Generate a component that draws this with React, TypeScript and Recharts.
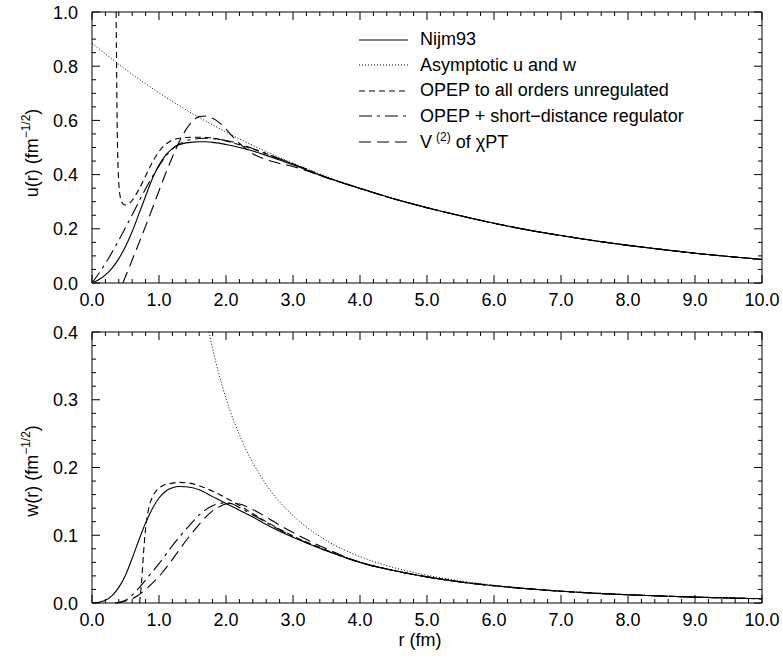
import { LineChart, Line, XAxis, YAxis, Legend } from 'recharts';

const FONT = '"Liberation Sans", Arial, Helvetica, sans-serif';

// shared long-range tail (all models coincide with the asymptotic form there)
const tailR = [4.0, 4.5, 5.0, 5.5, 6.0, 6.5, 7.0, 7.5, 8.0, 8.5, 9.0, 9.5, 10.0];
const uTail = [0.349, 0.311, 0.278, 0.248, 0.2205, 0.196, 0.175, 0.156, 0.139, 0.124, 0.11, 0.098, 0.087];
const wTail = [0.06, 0.048, 0.0385, 0.031, 0.0255, 0.021, 0.0174, 0.0145, 0.0122, 0.0103, 0.0087, 0.0074, 0.0063];

// u(r), top panel
const nijmUR = [0, 0.1, 0.2, 0.3, 0.4, 0.5, 0.6, 0.7, 0.8, 0.9, 1.0, 1.1, 1.2, 1.3, 1.4, 1.5, 1.6, 1.7, 1.8, 1.9, 2.0, 2.2, 2.4, 2.6, 2.8, 3.0, 3.5];
const nijmU = [0, 0.012, 0.03, 0.055, 0.09, 0.135, 0.19, 0.255, 0.32, 0.385, 0.435, 0.472, 0.496, 0.51, 0.517, 0.52, 0.521, 0.521, 0.519, 0.516, 0.511, 0.5, 0.487, 0.471, 0.454, 0.436, 0.389];

const asymUR = [0, 0.5, 1.0, 1.5, 2.0, 2.5, 3.0, 3.5, 4.0, 4.5, 5.0, 5.5, 6.0, 6.5, 7.0, 7.5, 8.0, 8.5, 9.0, 9.5, 10.0];
const asymU = [0.885, 0.788, 0.702, 0.625, 0.557, 0.496, 0.442, 0.393, 0.35, 0.312, 0.278, 0.248, 0.2205, 0.196, 0.175, 0.156, 0.139, 0.124, 0.11, 0.098, 0.0873];

const opepUR = [0.36, 0.365, 0.375, 0.39, 0.42, 0.46, 0.5, 0.55, 0.6, 0.7, 0.8, 0.9, 1.0, 1.1, 1.2, 1.3, 1.4, 1.5, 1.6, 1.7, 1.8, 1.9, 2.0, 2.2, 2.4, 2.6, 2.8, 3.0, 3.5];
const opepU = [1.0, 0.85, 0.6, 0.42, 0.32, 0.293, 0.288, 0.292, 0.305, 0.345, 0.395, 0.445, 0.485, 0.512, 0.527, 0.534, 0.537, 0.538, 0.538, 0.537, 0.535, 0.53, 0.524, 0.51, 0.494, 0.477, 0.458, 0.44, 0.39];

const regUR = [0, 0.2, 0.4, 0.6, 0.8, 1.0, 1.1, 1.2, 1.3, 1.4, 1.5, 1.6, 1.7, 1.8, 1.9, 2.0, 2.2, 2.4, 2.6, 2.8, 3.0, 3.5];
const regU = [0, 0.072, 0.158, 0.252, 0.348, 0.432, 0.468, 0.495, 0.513, 0.524, 0.53, 0.533, 0.534, 0.533, 0.53, 0.526, 0.513, 0.496, 0.478, 0.458, 0.439, 0.39];

const chptUR = [0.46, 0.6, 0.8, 1.0, 1.1, 1.2, 1.3, 1.4, 1.5, 1.6, 1.7, 1.8, 1.9, 2.0, 2.1, 2.2, 2.3, 2.4, 2.6, 2.8, 3.0, 3.3, 3.6];
const chptU = [0, 0.085, 0.21, 0.34, 0.405, 0.465, 0.52, 0.565, 0.597, 0.614, 0.616, 0.608, 0.592, 0.568, 0.54, 0.515, 0.494, 0.477, 0.455, 0.441, 0.43, 0.406, 0.38];

// w(r), bottom panel
const nijmWR = [0, 0.1, 0.2, 0.3, 0.4, 0.5, 0.6, 0.7, 0.8, 0.9, 1.0, 1.1, 1.2, 1.3, 1.4, 1.5, 1.6, 1.8, 2.0, 2.2, 2.4, 2.6, 2.8, 3.0, 3.5];
const nijmW = [0, 0.001, 0.004, 0.011, 0.023, 0.041, 0.066, 0.093, 0.118, 0.139, 0.155, 0.165, 0.17, 0.172, 0.1715, 0.17, 0.167, 0.157, 0.147, 0.137, 0.127, 0.116, 0.106, 0.097, 0.077];

const asymWR = [1.745, 1.85, 2.0, 2.25, 2.5, 2.75, 3.0, 3.5, 4.0, 4.5, 5.0, 5.5, 6.0, 6.5, 7.0, 7.5, 8.0, 8.5, 9.0, 9.5, 10.0];
const asymW = [0.4, 0.355, 0.302, 0.237, 0.19, 0.155, 0.129, 0.0922, 0.0685, 0.0524, 0.041, 0.0326, 0.0263, 0.0214, 0.0177, 0.0147, 0.0123, 0.0103, 0.0087, 0.0074, 0.0063];

const opepWR = [0.71, 0.73, 0.75, 0.77, 0.79, 0.82, 0.86, 0.91, 0.97, 1.05, 1.15, 1.3, 1.45, 1.6, 1.8, 2.0, 2.2, 2.4, 2.6, 2.8, 3.0, 3.5];
const opepW = [0, 0.02, 0.045, 0.075, 0.1, 0.125, 0.145, 0.158, 0.167, 0.173, 0.176, 0.178, 0.177, 0.173, 0.165, 0.155, 0.144, 0.132, 0.12, 0.109, 0.099, 0.078];

const regWR = [0.35, 0.5, 0.7, 0.85, 1.0, 1.15, 1.3, 1.45, 1.6, 1.75, 1.9, 2.0, 2.1, 2.2, 2.4, 2.6, 2.8, 3.0, 3.5];
const regW = [0, 0.004, 0.022, 0.04, 0.058, 0.078, 0.097, 0.114, 0.13, 0.141, 0.147, 0.148, 0.146, 0.141, 0.13, 0.119, 0.108, 0.098, 0.077];

const chptWR = [0.35, 0.5, 0.67, 0.8, 0.91, 1.05, 1.16, 1.3, 1.41, 1.55, 1.66, 1.8, 1.91, 2.0, 2.1, 2.2, 2.4, 2.6, 2.8, 3.0, 3.5];
const chptW = [0, 0.003, 0.01, 0.02, 0.03, 0.045, 0.059, 0.078, 0.093, 0.11, 0.123, 0.136, 0.1426, 0.146, 0.147, 0.146, 0.138, 0.127, 0.115, 0.104, 0.08];

const legendNames = ['Nijm93', 'Asymptotic u and w', 'OPEP to all orders unregulated', 'OPEP + short\u2212distance regulator', 'V'];

const xMajor = [0, 1, 2, 3, 4, 5, 6, 7, 8, 9, 10];
const uMajor = [0, 0.2, 0.4, 0.6, 0.8, 1.0];
const wMajor = [0, 0.1, 0.2, 0.3, 0.4];

const xTicks = Array.from({ length: 51 }, (_, i) => Math.round(i * 2) / 10);
const uTicks = Array.from({ length: 21 }, (_, i) => Math.round(i * 5) / 100);
const wTicks = Array.from({ length: 21 }, (_, i) => Math.round(i * 2) / 100);

const styles = [
  { dash: undefined, width: 1.1 },
  { dash: '1 2', width: 1 },
  { dash: '6 4', width: 1.1 },
  { dash: '13 5 3 5', width: 1.1 },
  { dash: '12 6', width: 1.1 },
];

type Pair = [number[], number[]];

// one table per panel, keyed by r; series missing at some r are left empty
const buildTable = (sets: Pair[]) => {
  const rs = Array.from(new Set(sets.flatMap(([r]) => r))).sort((a, b) => a - b);
  return rs.map((r) => {
    const row: Record<string, number> = { r };
    sets.forEach(([sr, sv], i) => {
      const k = sr.indexOf(r);
      if (k >= 0) row['s' + i] = sv[k];
    });
    return row;
  });
};

const topData = buildTable([
  [nijmUR.concat(tailR), nijmU.concat(uTail)],
  [asymUR, asymU],
  [opepUR.concat(tailR), opepU.concat(uTail)],
  [regUR.concat(tailR), regU.concat(uTail)],
  [chptUR.concat(tailR), chptU.concat(uTail)],
]);
const bottomData = buildTable([
  [nijmWR.concat(tailR), nijmW.concat(wTail)],
  [asymWR, asymW],
  [opepWR.concat(tailR), opepW.concat(wTail)],
  [regWR.concat(tailR), regW.concat(wTail)],
  [chptWR.concat(tailR), chptW.concat(wTail)],
]);

const isMajor = (v: number, majors: number[]) => majors.some((m) => Math.abs(m - v) < 1e-6);

const txt = { fontSize: 18, fontFamily: FONT, fill: '#000' };

const yTitle = (cy: number, name: string) => (
  <text x={38} y={cy} transform={`rotate(-90 38 ${cy})`} textAnchor="middle" {...txt}>
    {name} (fm<tspan fontSize={12} dy={-8}>{'\u22121/2'}</tspan>
    <tspan dy={8}>)</tspan>
  </text>
);

// inward tick marks; labels (and the axis title, once) where asked
const bottomTick = (title: any) => (p: any) => {
  const v = Number(p.payload.value);
  const big = isMajor(v, xMajor);
  return (
    <g>
      <path d={`M${p.x},${p.y}V${p.y - (big ? 8 : 4)}`} stroke="#000" strokeWidth={1} />
      {big && <text x={p.x} y={p.y + 23} textAnchor="middle" {...txt}>{v.toFixed(1)}</text>}
      {v === 0 && title}
    </g>
  );
};
const topTick = (p: any) => {
  const big = isMajor(Number(p.payload.value), xMajor);
  return (
    <g>
      <path d={`M${p.x},${p.y}V${p.y + (big ? 8 : 4)}`} stroke="#000" strokeWidth={1} />
    </g>
  );
};
const leftTick = (majors: number[], title: any) => (p: any) => {
  const v = Number(p.payload.value);
  const big = isMajor(v, majors);
  return (
    <g>
      <path d={`M${p.x},${p.y}H${p.x + (big ? 8 : 4)}`} stroke="#000" strokeWidth={1} />
      {big && <text x={p.x - 14} y={p.y + 6.5} textAnchor="end" {...txt}>{v.toFixed(1)}</text>}
      {v === 0 && title}
    </g>
  );
};
const rightTick = (majors: number[]) => (p: any) => {
  const big = isMajor(Number(p.payload.value), majors);
  return (
    <g>
      <path d={`M${p.x},${p.y}H${p.x - (big ? 8 : 4)}`} stroke="#000" strokeWidth={1} />
    </g>
  );
};

const LegendBox = () => (
  <div style={{ fontFamily: FONT, fontSize: 18, color: '#000' }}>
    {legendNames.map((name, i) => (
      <div key={name} style={{ display: 'flex', alignItems: 'center', height: 25.5 }}>
        <svg width={50} height={10} style={{ display: 'block' }}>
          <line x1={0} y1={5} x2={49} y2={5} stroke="#000" strokeWidth={styles[i].width} strokeDasharray={styles[i].dash} />
        </svg>
        <span style={{ marginLeft: 11, whiteSpace: 'nowrap' }}>
          {name}
          {i === 4 && (
            <>
              <sup style={{ fontSize: 12, marginLeft: 4 }}>(2)</sup> of {'\u03c7'}PT
            </>
          )}
        </span>
      </div>
    ))}
  </div>
);

const ax: any = {
  type: 'number',
  interval: 0,
  tickSize: 0,
  tickMargin: 0,
  tickLine: false,
  axisLine: { stroke: '#000', strokeWidth: 1 },
};

const lines = styles.map((s, i) => (
  <Line key={i} dataKey={'s' + i} xAxisId={i === 1 ? 'top' : undefined} yAxisId={i === 1 ? 'right' : undefined}
    type="monotone" stroke="#000" strokeWidth={s.width} strokeDasharray={s.dash} connectNulls
    dot={false} activeDot={false} isAnimationActive={false} />
));

const xTitle = <text x={420} y={336} textAnchor="middle" {...txt}>r (fm)</text>;

export default function App() {
  return (
    <div style={{ position: 'absolute', left: 0, top: 0, width: 783, height: 664, background: '#fff' }}>
      <div style={{ width: 783, height: 310 }}>
        <LineChart width={783} height={310} data={topData} margin={{ top: 11, right: 11, left: 52, bottom: 0 }}>
          <XAxis {...ax} dataKey="r" domain={[0, 10]} ticks={xTicks} height={27} tick={bottomTick(null)} />
          <XAxis {...ax} xAxisId="top" orientation="top" dataKey="r" domain={[0, 10]} ticks={xTicks} height={1} tick={topTick} />
          <YAxis {...ax} domain={[0, 1]} ticks={uTicks} width={40} tick={leftTick(uMajor, yTitle(153, 'u(r)'))} />
          <YAxis {...ax} yAxisId="right" orientation="right" domain={[0, 1]} ticks={uTicks} width={10} tick={rightTick(uMajor)} />
          {lines}
          <Legend layout="vertical" verticalAlign="middle" align="center" content={LegendBox}
            wrapperStyle={{ position: 'absolute', left: 359, top: 27, width: 'auto', height: 'auto' }} />
        </LineChart>
      </div>
      <div style={{ width: 783, height: 354 }}>
        <LineChart width={783} height={354} data={bottomData} margin={{ top: 21, right: 11, left: 52, bottom: 0 }}>
          <XAxis {...ax} dataKey="r" domain={[0, 10]} ticks={xTicks} height={61} tick={bottomTick(xTitle)} />
          <XAxis {...ax} xAxisId="top" orientation="top" dataKey="r" domain={[0, 10]} ticks={xTicks} height={1} tick={topTick} />
          <YAxis {...ax} domain={[0, 0.4]} ticks={wTicks} width={40} tick={leftTick(wMajor, yTitle(161, 'w(r)'))} />
          <YAxis {...ax} yAxisId="right" orientation="right" domain={[0, 0.4]} ticks={wTicks} width={10} tick={rightTick(wMajor)} />
          {lines}
        </LineChart>
      </div>
    </div>
  );
}
